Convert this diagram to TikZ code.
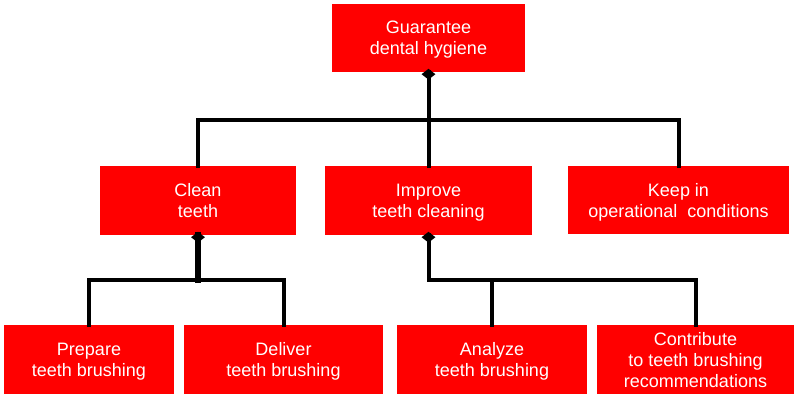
\documentclass[tikz,border=0pt]{standalone}
\usepackage{fontspec}
\setmainfont{Liberation Sans}
\usetikzlibrary{shapes.geometric}
\definecolor{boxred}{RGB}{255,0,0}
\tikzset{
  box/.style={fill=boxred, text=white, align=center, inner sep=0pt,
    font=\fontsize{18}{21}\selectfont},
  conn/.style={draw=black, line width=4pt, line cap=rect},
  joint/.style={diamond, fill=black, inner sep=0pt, minimum width=14pt, minimum height=11pt}
}
% last lines are smashed so each block is centred from cap top to last baseline
\newcommand{\lastline}[1]{\smash{#1}}
\begin{document}
\begin{tikzpicture}[x=1pt, y=-1pt]
\useasboundingbox (0,0) rectangle (795,394);

% goal tree
\node[box, minimum width=193pt, minimum height=68pt] (top) at (428.5,38) {Guarantee\\\lastline{dental hygiene}};

\node[box, minimum width=196pt, minimum height=69pt] (clean) at (198,200.5) {Clean\\\lastline{teeth}};
\node[box, minimum width=207pt, minimum height=69pt] (improve) at (428.5,200.5) {Improve\\\lastline{teeth cleaning}};
\node[box, minimum width=221pt, minimum height=68pt] (keep) at (678.5,200) {Keep in\\\lastline{operational\ \ conditions}};

\node[box, minimum width=170pt, minimum height=69pt] (prepare) at (89,359.5) {Prepare\\\lastline{teeth brushing}};
\node[box, minimum width=199pt, minimum height=69pt] (deliver) at (283.5,359.5) {Deliver\\\lastline{teeth brushing}};
\node[box, minimum width=190pt, minimum height=69pt] (analyze) at (492,359.5) {Analyze\\\lastline{teeth brushing}};
\node[box, minimum width=197pt, minimum height=69pt] (contrib) at (695.5,359.5) {Contribute\\to teeth brushing\\\lastline{recommendations}};

% branch levels
\coordinate (lv1) at (0,120);
\coordinate (lv2) at (0,280);

% connectors
\draw[conn] (top.south) -- (top.south |- lv1);
\draw[conn] (clean.north |- lv1) -- (keep.north |- lv1);
\draw[conn] (clean.north |- lv1) -- (clean.north);
\draw[conn] (improve.north |- lv1) -- (improve.north);
\draw[conn] (keep.north |- lv1) -- (keep.north);

\draw[conn, line width=6pt] (clean.south) -- (clean.south |- lv2);
\draw[conn] (prepare.north |- lv2) -- (deliver.north |- lv2);
\draw[conn] (prepare.north |- lv2) -- (prepare.north);
\draw[conn] (deliver.north |- lv2) -- (deliver.north);

\draw[conn] (improve.south) -- (improve.south |- lv2) -- (contrib.north |- lv2) -- (contrib.north);
\draw[conn] (analyze.north |- lv2) -- (analyze.north);

% aggregation diamonds
\node[joint] (d1) at ([yshift=-2pt]top.south) {};
\node[joint] (d2) at ([yshift=-2pt]clean.south) {};
\node[joint] (d3) at ([yshift=-2pt]improve.south) {};
\end{tikzpicture}
\end{document}
